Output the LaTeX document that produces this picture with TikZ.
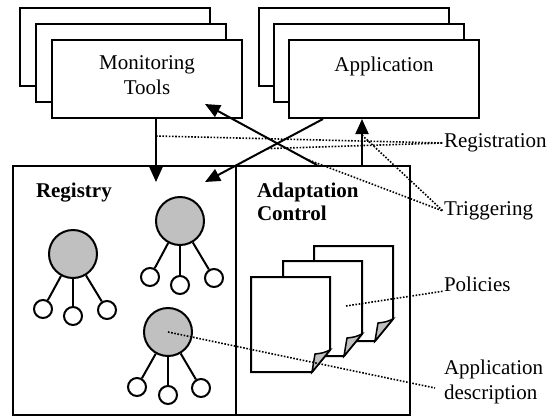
\documentclass[tikz,border=0pt]{standalone}
\usepackage{fontspec}
\setmainfont{Liberation Serif}
\usepackage{xcolor}
\definecolor{hubgray}{RGB}{192,192,192}
\usepackage{tikz}
\usetikzlibrary{arrows.meta, positioning}

\begin{document}
\begin{tikzpicture}[
  x=1pt, y=-1pt,
  line width=2pt,
  font=\fontsize{21}{25}\selectfont,
  card/.style={draw, fill=white, minimum width=190pt, minimum height=78pt, inner sep=0pt},
  pane/.style={draw, minimum height=249pt, inner sep=0pt},
  caption/.style={inner sep=0pt, align=left},
  hub/.style={circle, draw, fill=hubgray, minimum size=48pt, inner sep=0pt},
  leaf/.style={circle, draw, fill=white, minimum size=18pt, inner sep=0pt},
  flow/.style={-{Triangle[length=15pt,width=13pt]}},
  note/.style={line width=1.6pt, dash pattern=on 1.6pt off 1.6pt},
]
\useasboundingbox (0,0) rectangle (552,416);

% stacked tool and application windows
\foreach \k in {2,1} {
  \node[card] at ({147-16*\k},{79-16*\k}) {};
  \node[card] at ({384-15*\k},{79-16*\k}) {};
}
\node[card] (mon) at (147,79) {};
\node[card] (app) at (384,79) {};
\node[caption, align=center, anchor=north] (montxt) at ([yshift=-16pt]mon.north) {Monitoring\\Tools};
\node[caption, anchor=north] (apptxt) at ([yshift=-17pt]app.north) {Application};

% registry and adaptation control
\node[pane, minimum width=223pt] (reg) at (124.5,290.5) {};
\node[pane, minimum width=174pt] (adapt) at (323,290.5) {};
\node[caption, font=\fontsize{21}{25}\selectfont\bfseries, anchor=north west] (regtxt) at (35,182) {Registry};
\node[caption, font=\fontsize{21}{23}\selectfont\bfseries, anchor=north west] (adapttxt) at (256,182) {Adaptation\\Control};

% application descriptions
\node[hub] (h1) at (73,254) {};
\node[leaf] (l11) at (43,309) {};
\node[leaf] (l12) at (73,316) {};
\node[leaf] (l13) at (107,310) {};
\node[hub] (h2) at (180,221) {};
\node[leaf] (l21) at (150,277) {};
\node[leaf] (l22) at (180,285) {};
\node[leaf] (l23) at (214,278) {};
\node[hub] (h3) at (168,332) {};
\node[leaf] (l31) at (137,387) {};
\node[leaf] (l32) at (168,395) {};
\node[leaf] (l33) at (201,388) {};
\foreach \t in {1,2,3} {
  \foreach \s in {1,2,3} \draw (h\t) -- (l\t\s);
}

% policies
\foreach \px/\py in {314/246, 283/261, 251/277} {
  \begin{scope}[shift={(\px,\py)}]
    \draw[fill=white] (0,0) -- (79,0) -- (79,73) -- (61,95) -- (0,95) -- cycle;
    \draw[fill=hubgray, line width=1.5pt] (79,73) .. controls (72,76) .. (64,77) -- (61,95) -- cycle;
  \end{scope}
}

% right-hand labels
\node[caption, anchor=west] (regl) at (443,143) {Registration};
\node[caption, anchor=west] (trig) at (443,211) {Triggering};
\node[caption, anchor=west] (pol) at (443,284) {Policies};
\node[caption, anchor=north west] (desc) at (443,359) {Application\\description};
\coordinate (regtipA) at (156,182);
\coordinate (regtipB) at (205,182);
\coordinate (montip) at (205,104);
\coordinate (pnote) at (346,306);
\coordinate (descend) at (435,388);

\draw[flow] ([xshift=9pt]mon.south) -- coordinate[pos=0.27] (r1) (regtipA);
\draw[flow] ([xshift=-61pt]app.south) -- coordinate[pos=0.47] (r2) (regtipB);
\draw[flow] ([xshift=-6pt]adapt.north) -- coordinate[pos=0.1] (t1) (montip);
\draw[flow] ([xshift=39pt]adapt.north) -- coordinate[pos=0.65] (t2) ([xshift=-22pt]app.south);

\draw[note] (r1) -- (regl.west);
\draw[note] (r2) -- (regl.west);
\draw[note] (t1) -- (trig.west);
\draw[note] (t2) -- (trig.west);
\draw[note] (pnote) -- (pol.base west);
\draw[note] (h3.center) -- (descend);
\end{tikzpicture}
\end{document}
